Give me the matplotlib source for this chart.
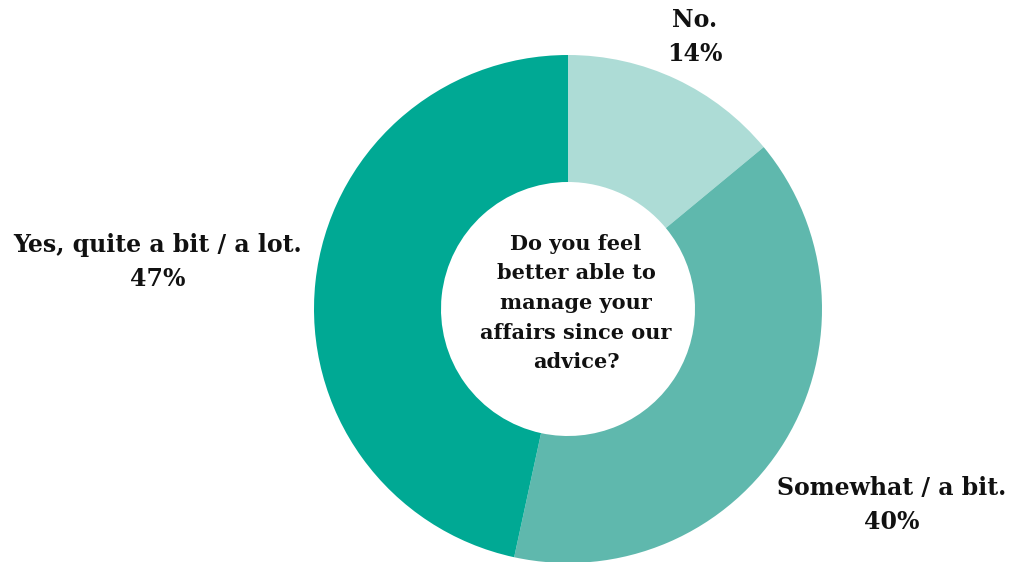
import matplotlib
matplotlib.use("Agg")
import matplotlib.pyplot as plt

categories = ["No.", "Somewhat / a bit.", "Yes, quite a bit / a lot."]
values = [14.0, 39.4, 46.6]
pct_labels = ["14%", "40%", "47%"]
colors = ["#addcd6", "#5fb8ad", "#00a994"]
center_text = "Do you feel\nbetter able to\nmanage your\naffairs since our\nadvice?"

W, H = 1010, 562
fig = plt.figure(figsize=(W / 100, H / 100), dpi=100)
ax = fig.add_axes([0, 0, 1, 1])

cx, cy, R = 568, H - 309, 254
ax.pie(values, colors=colors, startangle=90, counterclock=False,
       center=(cx, cy), radius=R, frame=True,
       wedgeprops=dict(width=R - 127, linewidth=0))
ax.set_xlim(0, W)
ax.set_ylim(0, H)
ax.set_aspect("equal")
ax.axis("off")

font = dict(family="DejaVu Serif", weight="bold", color="#111111")
label_pos = [(695, H - 37), (892, H - 505), (158, H - 262)]
for cat, pct, (x, y) in zip(categories, pct_labels, label_pos):
    ax.text(x, y, f"{cat}\n{pct}", ha="center", va="center", fontsize=17,
            linespacing=1.54, **font)

ax.text(576, H - 303, center_text, ha="center", va="center", fontsize=15,
        linespacing=1.6, **font)

fig.savefig("out.png", dpi=100)
